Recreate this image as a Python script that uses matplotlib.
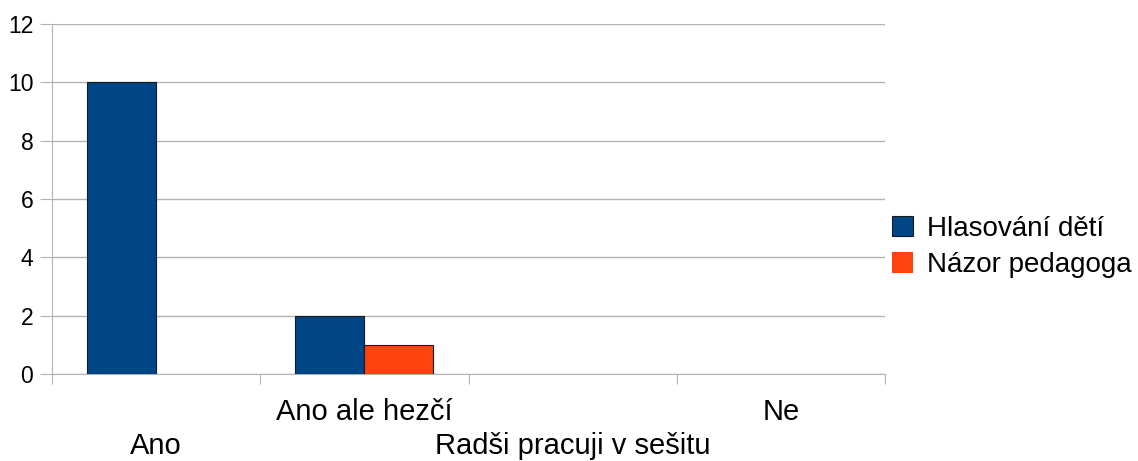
import matplotlib
matplotlib.use("Agg")
import matplotlib.pyplot as plt
import numpy as np

categories = ["Ano", "Ano ale hezčí", "Radši pracuji v sešitu", "Ne"]
series_names = ["Hlasování dětí", "Názor pedagoga"]
hlasovani = [10, 2, 0, 0]
nazor = [0, 1, 0, 0]
colors = ["#004586", "#ff420e"]
yticks = [0, 2, 4, 6, 8, 10, 12]

plt.rcParams['font.family'] = ['Liberation Sans', 'DejaVu Sans']

fig = plt.figure(figsize=(11.38, 4.61), dpi=100)
ax = fig.add_axes([52/1138, 1-374/461, (885-52)/1138, (374-24)/461])

x = np.arange(len(categories))
w = 0.331
for i, (vals, name) in enumerate(zip([hlasovani, nazor], series_names)):
    bars = ax.bar(x + (i - 0.5) * w, vals, w, color=colors[i], label=name,
                  edgecolor="#1a1a1a", linewidth=0.8, zorder=3)
    for b, v in zip(bars, vals):
        if v == 0:
            b.set_edgecolor("none")

ax.set_xlim(-0.5, len(categories) - 0.5)
ax.set_ylim(0, 12)
ax.set_yticks(yticks)
ax.set_yticklabels([str(t) for t in yticks], fontsize=16.5)
ax.yaxis.grid(True, color="#b3b3b3", linewidth=1, zorder=0)
ax.tick_params(axis='y', length=8.5, color="#b3b3b3", pad=5)

# category boundary ticks
ax.set_xticks(np.arange(len(categories) + 1) - 0.5)
ax.set_xticklabels([])
ax.tick_params(axis='x', which='major', length=7, color="#b3b3b3")

# staggered labels: odd categories on first row, even ones on second row
odd = x[1::2]
even = x[0::2]
ax.set_xticks(odd, minor=True)
ax.set_xticklabels([categories[i] for i in odd], minor=True, fontsize=21)
ax.tick_params(axis='x', which='minor', length=0, pad=17)

sec = ax.secondary_xaxis('bottom')
sec.set_xticks(even)
sec.set_xticklabels([categories[i] for i in even], fontsize=21)
sec.tick_params(axis='x', length=0, pad=42)
sec.spines['bottom'].set_visible(False)

for s in ["top", "right"]:
    ax.spines[s].set_visible(False)
ax.spines["left"].set_color("#b3b3b3")
ax.spines["bottom"].set_color("#b3b3b3")

leg = ax.legend(loc="center left", bbox_to_anchor=(892/1138, 1-247/461),
                bbox_transform=fig.transFigure, frameon=False, fontsize=20,
                handlelength=0.75, handleheight=0.75, handletextpad=0.5,
                labelspacing=0.38, borderaxespad=0, borderpad=0)

fig.savefig("out.png", dpi=100)
